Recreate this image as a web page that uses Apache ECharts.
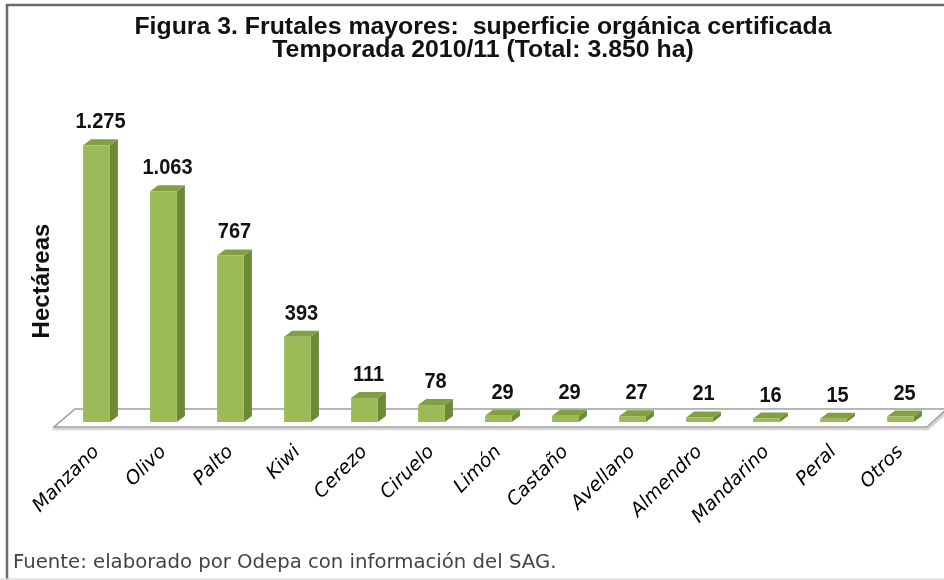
<!DOCTYPE html>
<html>
<head>
<meta charset="utf-8">
<script src="https://cdn.jsdelivr.net/npm/echarts@6/dist/echarts.min.js"></script>
<style>html,body{margin:0;padding:0;background:#fff}#c{width:944px;height:580px}</style>
</head>
<body>
<div id="c"></div>
<script>
const categories = ['Manzano','Olivo','Palto','Kiwi','Cerezo','Ciruelo','Limón','Castaño','Avellano','Almendro','Mandarino','Peral','Otros'];
const values = [1275, 1063, 767, 393, 111, 78, 29, 29, 27, 21, 16, 15, 25];
const titleLines = ['Figura 3. Frutales mayores:  superficie orgánica certificada', 'Temporada 2010/11 (Total: 3.850 ha)'];
const yAxisName = 'Hectáreas';
const sourceText = 'Fuente: elaborado por Odepa con información del SAG.';

function fmt(v){ return String(v).replace(/\B(?=(\d{3})+(?!\d))/g, '.'); }

const chart = echarts.init(document.getElementById('c'), null, {renderer:'canvas'});

const FRONT = '#9bbb59', SIDE = '#6a8a35', TOP = '#80a043';

function renderBar(params, api){
  const idx = api.value(0), v = api.value(1);
  const base = api.coord([idx, 0]);
  const top = api.coord([idx, v]);
  const band = api.size([1, 0])[0];
  const w = band * 0.4;
  const x0 = base[0] - w/2, x1 = x0 + w;
  const dx = 8, dy = 6;
  const yt = top[1], yb = base[1];
  return {
    type: 'group',
    children: [
      {type:'polygon', shape:{points:[[x1,yt],[x1+dx,yt-dy],[x1+dx,yb-dy],[x1,yb]]}, style:{fill:SIDE}},
      {type:'polygon', shape:{points:[[x0,yt],[x0+dx,yt-dy],[x1+dx,yt-dy],[x1,yt]]}, style:{fill:TOP}},
      {type:'rect', shape:{x:x0, y:yt, width:w, height:yb-yt}, style:{fill:FRONT}},
      {type:'text', x:(x0+x1+dx)/2, y:yt-dy-6, scaleY:1.12, style:{text:fmt(v), fill:'#111', font:'bold 20px "Liberation Sans", Arial, sans-serif', align:'center', verticalAlign:'bottom'}}
    ]
  };
}

function renderFloor(params, api){
  const cs = params.coordSys;
  const yb = cs.y + cs.height;
  const l = cs.x, r = cs.x + cs.width;
  const pts = [[l-9, yb+5],[r-7, yb+5],[r+13, yb-13],[l+12, yb-13]];
  return {
    type:'group',
    children:[
      {type:'polygon', shape:{points:pts.map(p=>[p[0]+1,p[1]+2])}, style:{fill:'none', stroke:'#d4d4d4', lineWidth:2.5}},
      {type:'polygon', shape:{points:pts}, style:{fill:'#fff', stroke:'#9f9f9f', lineWidth:1.6}}
    ]
  };
}

const option = {
  backgroundColor:'#fff',
  animation:false,
  grid:{left:63, right:10, top:118, bottom:158},
  xAxis:{
    type:'category', data:categories,
    axisLine:{show:false}, axisTick:{show:false},
    axisLabel:{rotate:45, margin:27, color:'#000', fontSize:19, fontStyle:'italic', fontFamily:'"DejaVu Sans", Verdana, sans-serif', interval:0}
  },
  yAxis:{type:'value', min:0, max:1400, show:false, splitLine:{show:false}},
  series:[
    {type:'custom', renderItem:renderFloor, data:[[0,0]], z:1, silent:true, clip:false},
    {type:'custom', renderItem:renderBar, data:values.map((v,i)=>[i,v]), encode:{x:0,y:1}, z:2, clip:false}
  ],
  graphic:[
    {type:'line', shape:{x1:6, y1:5, x2:944, y2:5}, style:{stroke:'#6b6b6b', lineWidth:2.5}},
    {type:'line', shape:{x1:7, y1:4, x2:7, y2:580}, style:{stroke:'#6b6b6b', lineWidth:2.5}},
    {type:'line', shape:{x1:0, y1:579, x2:944, y2:579}, style:{stroke:'#dedede', lineWidth:1.5}},
    {type:'text', x:483, y:28, scaleX:1.08, style:{text:titleLines[0], font:'bold 23px "Liberation Sans", Arial, sans-serif', fill:'#111', align:'center', verticalAlign:'middle'}},
    {type:'text', x:483, y:51, scaleX:1.08, style:{text:titleLines[1], font:'bold 23px "Liberation Sans", Arial, sans-serif', fill:'#111', align:'center', verticalAlign:'middle'}},
    {type:'text', x:42, y:281, rotation:Math.PI/2, style:{text:yAxisName, font:'bold 24px "Liberation Sans", Arial, sans-serif', fill:'#111', align:'center', verticalAlign:'middle'}},
    {type:'text', x:13, y:563, style:{text:sourceText, font:'19.7px "DejaVu Sans", Verdana, sans-serif', fill:'#444', align:'left', verticalAlign:'middle'}}
  ]
};
chart.setOption(option);
</script>
</body>
</html>
